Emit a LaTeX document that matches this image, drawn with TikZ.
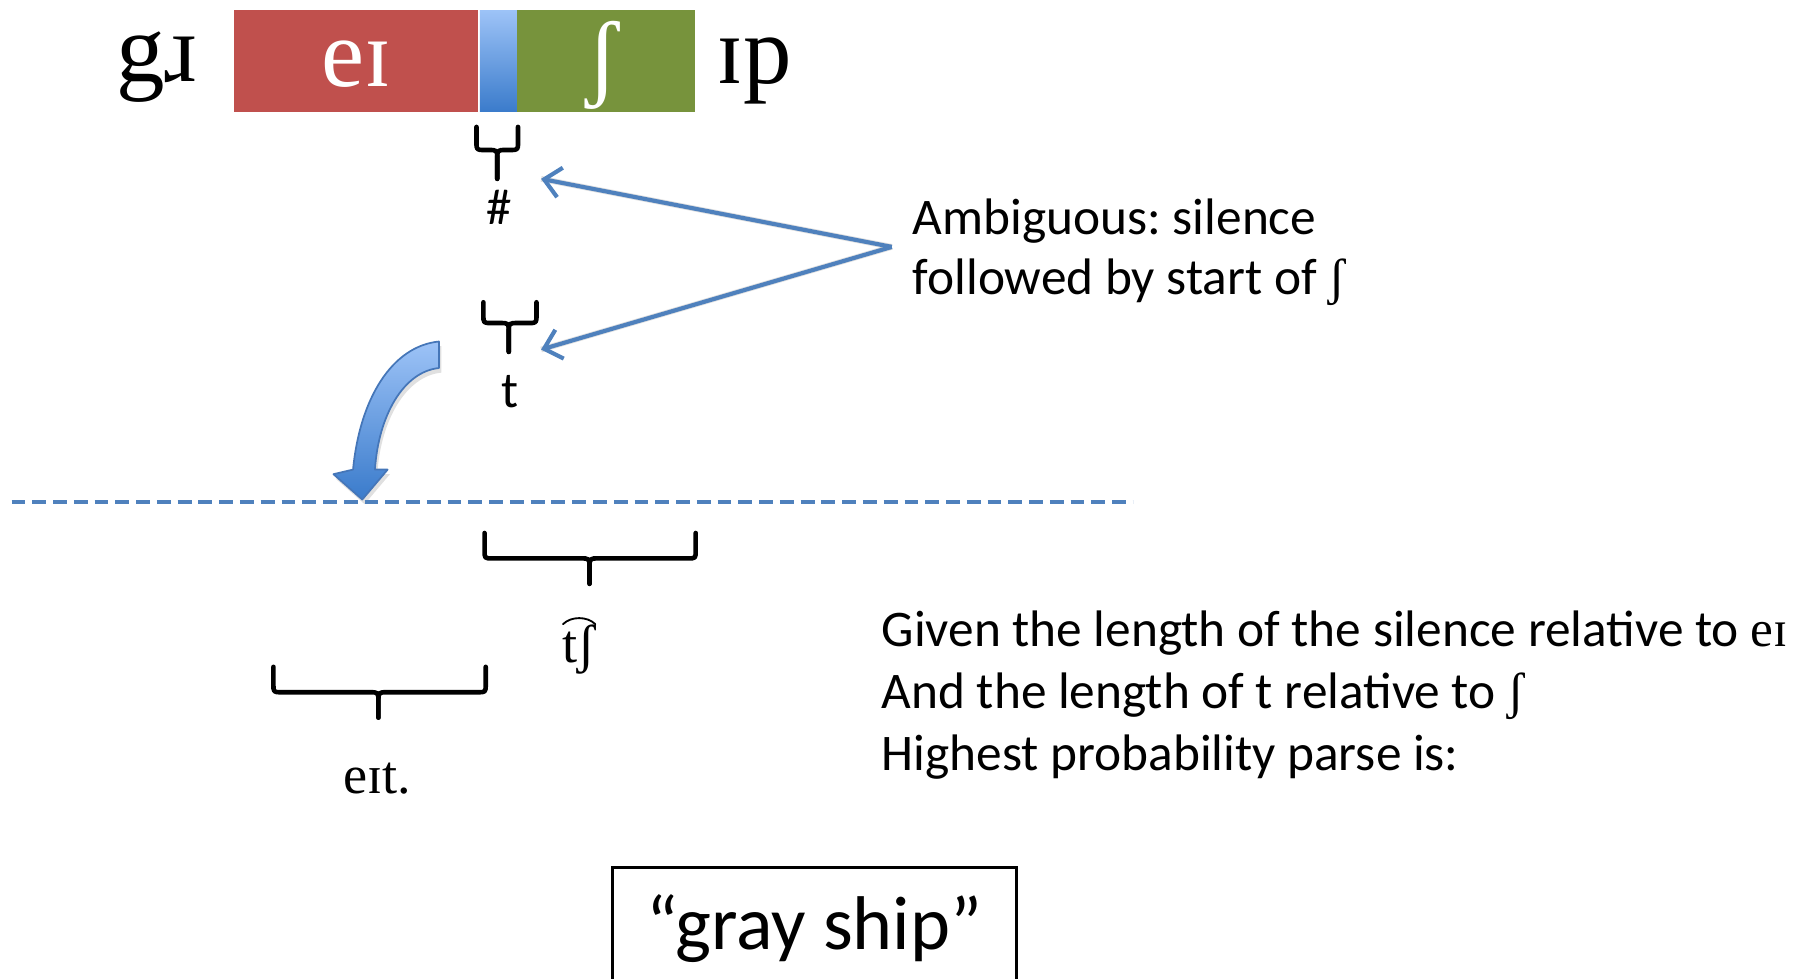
\documentclass[tikz,border=0pt]{standalone}
\usepackage{fontspec}
\setmainfont{Carlito}
\newfontfamily\ipa{Liberation Serif}
\usetikzlibrary{arrows.meta}
\frenchspacing

\definecolor{segred}{HTML}{C0504D}
\definecolor{seggreen}{HTML}{77933C}
\definecolor{accent}{HTML}{4F81BD}
\definecolor{lightblue}{HTML}{9DC3F7}
\definecolor{midblue}{HTML}{3A7BCB}
\definecolor{arrowedge}{HTML}{4576B8}

% under-brace with a centre tick: x-left, x-right, y-top, y-bar, x-tick, y-tick-end
\newcommand{\ubrace}[6]{%
  \draw[bracestyle] (#1,#3) -- (#1,#4-7) .. controls (#1,#4) .. (#1+7,#4)
     -- (#5-8,#4) .. controls (#5,#4) .. (#5,#4+8) -- (#5,#6);
  \draw[bracestyle] (#2,#3) -- (#2,#4-7) .. controls (#2,#4) .. (#2-7,#4)
     -- (#5+8,#4) .. controls (#5,#4) .. (#5,#4+8) -- (#5,#6);
}

\tikzset{
  bracestyle/.style={line width=4pt, line cap=round, line join=round, black},
  segment/.style={minimum height=88pt, inner sep=0pt, outer sep=0pt, draw=none},
  ipabig/.style={font=\ipa\fontsize{84}{90}\selectfont, inner sep=0pt, anchor=base},
  ipamid/.style={font=\ipa\fontsize{47}{54}\selectfont, inner sep=0pt, anchor=base},
  body/.style={font=\fontsize{44.5}{54}\selectfont, inner sep=0pt, anchor=base west},
  small/.style={font=\fontsize{44}{54}\selectfont, inner sep=0pt, anchor=base},
  pointer/.style={accent, line width=3.6pt, -{Straight Barb[length=14pt,width=26pt]}},
  softshadow/.style={black, opacity=0.12, line width=5pt},
  dashline/.style={accent, line width=4pt, dash pattern=on 12pt off 6pt},
}

\begin{document}
\begin{tikzpicture}[x=1pt, y=-1pt]
\useasboundingbox (0,0) rectangle (1568,848);
\clip (0,0) rectangle (1568,848);

% segment bar
\node[segment, fill=segred, minimum width=211pt, anchor=north west] (seg1) at (203,9) {};
\node[segment, top color=lightblue, bottom color=midblue, minimum width=32pt, anchor=north west] (seg2) at (416,9) {};
\node[segment, fill=seggreen, minimum width=154pt, anchor=north west] (seg3) at (448,9) {};

\node[ipabig] (gr) at (136,71) {gɹ};
\node[ipabig, text=white] (ei) at (309,75) {eɪ};
\node[ipabig, text=white] (sh) at (522,77) {ʃ};
\node[ipabig] (ip) at (654,72) {ɪp};

% candidate readings of the gap
\ubrace{413}{449}{110}{130}{431}{155}
\node[small] (hash) at (433,195) {\#};
\ubrace{419}{465}{262}{280}{441}{305}
\node[small] (t) at (442,353) {t};

% note and its pointers
\node[body] (amb1) at (791,203) {Ambiguous: silence};
\node[body] (amb2) at (791,255) {followed by start of {\ipa ʃ}};
\coordinate (src) at (773,214);
\coordinate (tipa) at (469,155);
\coordinate (tipb) at (469,303);
\begin{scope}[shift={(1.5,3)}]
  \draw[softshadow] (src) -- (tipa);
  \draw[softshadow] (src) -- (tipb);
\end{scope}
\draw[pointer] (src) -- (tipa);
\draw[pointer] (src) -- (tipb);

% curved block arrow down to the dashed line
\fill[black, opacity=0.12, shift={(2,4)}]
  (380.5,296) .. controls (340,300) and (312,345) .. (306,407)
  -- (289,411) -- (314,433) -- (336,407) -- (325,407)
  .. controls (328,360) and (350,322) .. (380.5,319) -- cycle;
\shadedraw[top color=lightblue, bottom color=midblue, draw=arrowedge, line width=1.5pt, line join=round]
  (380.5,296) .. controls (340,300) and (312,345) .. (306,407)
  -- (289,411) -- (314,433) -- (336,407) -- (325,407)
  .. controls (328,360) and (350,322) .. (380.5,319) -- cycle;

\coordinate (dashL) at (10,435);
\coordinate (dashR) at (982,435);
\draw[dashline] (dashL) -- (dashR);

% parse below the line
\ubrace{420}{603}{462}{484}{511}{506}
\node[ipamid] (tsh) at (502,574) {tʃ};
% tie bar over the affricate
\draw[line width=1.6pt, line cap=round] ([xshift=-14pt,yshift=33pt]tsh.base)
  .. controls ([xshift=-7pt,yshift=40pt]tsh.base) and ([xshift=7pt,yshift=40pt]tsh.base)
  .. ([xshift=14pt,yshift=33pt]tsh.base);
\ubrace{237}{421}{578}{600}{328}{622}
\node[ipamid] (eit) at (327,688) {eɪt.};

\node[body] (giv1) at (764,560) {Given the length of the silence relative to {\ipa eɪ}};
\node[body] (giv2) at (764,614) {And the length of t relative to {\ipa ʃ}};
\node[body] (giv3) at (764,668) {Highest probability parse is:};

% answer box
\node[draw, line width=2pt, minimum width=350pt, minimum height=130pt, anchor=north, inner sep=0pt] (box) at (706,751) {};
\node[font=\fontsize{66}{70}\selectfont, inner sep=0pt, anchor=base] (ans) at (706,823) {“gray ship”};
\end{tikzpicture}
\end{document}
